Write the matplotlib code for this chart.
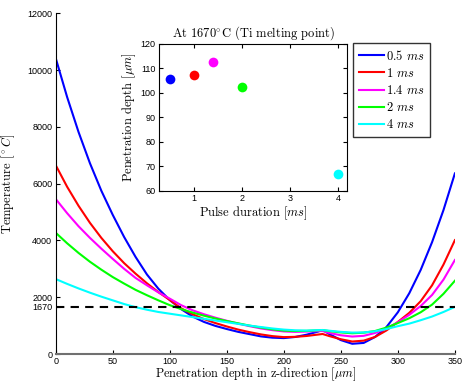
import matplotlib
matplotlib.use('Agg')
import matplotlib.pyplot as plt

plt.rcParams['mathtext.fontset'] = 'cm'

# depth grid [um] and temperatures [C]
depth = [0, 10, 20, 30, 40, 50, 60, 70, 80, 90,
         100, 110, 120, 130, 140, 150, 160, 170, 180, 190,
         200, 210, 220, 230, 234,
         240, 250, 260, 270, 280, 290, 300, 310, 320, 330, 340, 350]
t_05 = [10420, 9050, 7820, 6720, 5750, 4900, 4120, 3420, 2800, 2300,
        1900, 1580, 1320, 1130, 990, 880, 780, 700, 620, 575,
        560, 600, 680, 790, 845,
        700, 490, 360, 390, 600, 950, 1470, 2140, 2960, 3940, 5070, 6360]
t_1 = [6650, 5890, 5220, 4620, 4090, 3620, 3200, 2830, 2490, 2180,
       1900, 1610, 1400, 1230, 1090, 970, 860, 770, 690, 630,
       595, 605, 635, 685, 705,
       630, 520, 440, 470, 600, 830, 1130, 1450, 1860, 2420, 3150, 4010]
t_14 = [5460, 4960, 4500, 4090, 3710, 3350, 3000, 2680, 2420, 2170,
        1950, 1720, 1540, 1400, 1280, 1170, 1070, 980, 900, 840,
        795, 780, 790, 805, 810,
        740, 660, 615, 640, 740, 900, 1120, 1380, 1690, 2080, 2620, 3310]
t_2 = [4270, 3900, 3560, 3250, 2970, 2710, 2480, 2260, 2070, 1890,
       1720, 1580, 1460, 1350, 1250, 1160, 1080, 1000, 930, 870,
       825, 810, 815, 835, 845,
       805, 760, 730, 750, 810, 930, 1090, 1260, 1470, 1740, 2120, 2580]
t_4 = [2640, 2470, 2310, 2160, 2020, 1890, 1760, 1650, 1560, 1480,
       1420, 1360, 1300, 1240, 1180, 1120, 1060, 1000, 950, 900,
       860, 835, 825, 840, 845,
       820, 780, 755, 760, 800, 880, 980, 1070, 1190, 1320, 1480, 1660]

labels = ['0.5 $ms$', '1 $ms$', '1.4 $ms$', '2 $ms$', '4 $ms$']
colors = ['#0000ff', '#ff0000', '#ff00ff', '#00ff00', '#00ffff']
melt = 1670

# inset: penetration depth at melting point vs pulse duration
pulse = [0.5, 1, 1.4, 2, 4]
pen_depth = [105.8, 107.3, 112.8, 102.6, 66.8]

serif = 'cmr10'
tickfont = 'Liberation Sans'

fig = plt.figure(figsize=(4.62, 3.83), dpi=100)
ax = fig.add_axes([0.1206, 0.0757, 0.864, 0.8896])

lines = []
for temps, c, lab in zip([t_05, t_1, t_14, t_2, t_4], colors, labels):
    ln, = ax.plot(depth, temps, color=c, lw=1.5, label=lab)
    lines.append(ln)
ax.axhline(melt, color='black', ls='--', lw=1.5, dashes=(4, 3))

ax.set_xlim(0, 350)
ax.set_ylim(0, 12000)
ax.set_xticks(range(0, 351, 50))
ax.set_yticks([0, melt, 2000, 4000, 6000, 8000, 10000, 12000])
for s in ['top', 'right']:
    ax.spines[s].set_visible(False)
ax.spines['bottom'].set_color('#707070')
ax.spines['bottom'].set_linewidth(1.5)
ax.tick_params(direction='in', length=3, labelsize=6.5, pad=2.5)
for t in ax.get_xticklabels() + ax.get_yticklabels():
    t.set_fontfamily(tickfont)
ax.set_xlabel(r'Penetration depth in z-direction [$\mu m$]', fontfamily=serif, fontsize=8.8, labelpad=-1)
ax.set_ylabel(r'Temperature [$^\circ C$]', fontfamily=serif, fontsize=9)
ax.yaxis.set_label_coords(-0.097, 0.5)

leg = fig.legend(handles=lines, loc='upper left', bbox_to_anchor=(353 / 462, 1 - 43 / 383),
                 prop={'family': serif, 'size': 9}, frameon=True, fancybox=False,
                 edgecolor='black', handlelength=2.0, handletextpad=0.2,
                 labelspacing=0.33, borderpad=0.45, borderaxespad=0)
leg.get_frame().set_linewidth(1.0)

ins = fig.add_axes([159 / 462, 1 - 191 / 383, 188 / 462, 147 / 383])
for x, y, c in zip(pulse, pen_depth, colors):
    ins.plot(x, y, 'o', color=c, ms=7, mec='none')
ins.set_xlim(0.27, 4.19)
ins.set_ylim(60, 120)
ins.set_xticks([1, 2, 3, 4])
ins.set_yticks(range(60, 121, 10))
ins.tick_params(direction='in', length=3, labelsize=6.5, pad=2.5, top=True, right=True)
for t in ins.get_xticklabels() + ins.get_yticklabels():
    t.set_fontfamily(tickfont)
ins.set_title(r'At 1670$^{\circ}$C (Ti melting point)', fontfamily=serif, fontsize=9, pad=5)
ins.set_xlabel(r'Pulse duration [$ms$]', fontfamily=serif, fontsize=9, labelpad=1)
ins.set_ylabel(r'Penetration depth [$\mu m$]', fontfamily=serif, fontsize=9, labelpad=2)

fig.savefig('out.png', dpi=100)
